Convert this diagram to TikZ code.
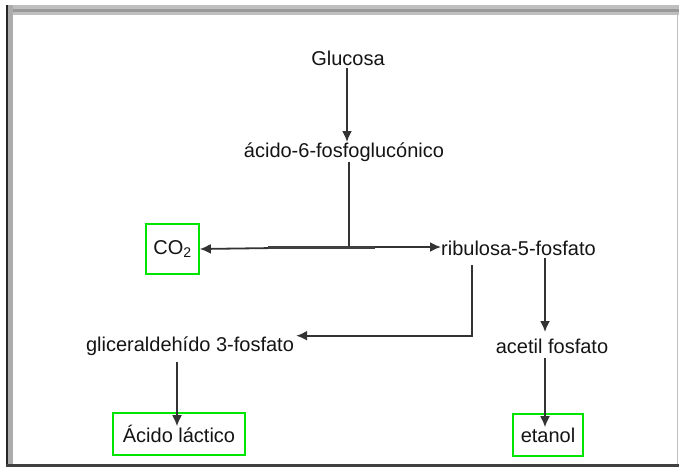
\documentclass[tikz,border=0pt]{standalone}
\usepackage{fontspec}
\setmainfont{Liberation Sans}
\usetikzlibrary{arrows.meta,calc}
\begin{document}
\begin{tikzpicture}[x=1pt,y=-1pt,
  lbl/.style={inner sep=0pt,font=\fontsize{20}{24}\selectfont,text=black!92},
  gbox/.style={lbl,draw=green!90!black,line width=1.6pt,align=center},
  conn/.style={draw=black!80,line width=1.8pt},
  arr/.style={conn,-{Latex[length=11pt,width=10pt]}}]
\useasboundingbox (0,0) rectangle (679,467);
% frame
\fill[gray!50] (6,5) rectangle (679,15);
\draw[gray!80,line width=2.5pt] (6,10.5) -- (679,10.5);
\fill[gray!65] (8,5) rectangle (13,467);
\draw[black!85,line width=1.8pt] (6.9,5) -- (6.9,467);
\fill[black!75] (6,463.5) rectangle (679,467);
\draw[gray!50,line width=1pt] (677.5,15) -- (677.5,463.5);
% nodes
\node[lbl,anchor=base] (glu) at (348,65) {Glucosa};
\node[lbl,anchor=base] (acido) at (344,157.5) {ácido-6-fosfoglucónico};
\node[gbox,minimum width=53pt,minimum height=50pt] (co2) at (172.5,249) {CO\textsubscript{2}};
\node[lbl,anchor=base west] (ribu) at (441,255) {ribulosa-5-fosfato};
\node[lbl,anchor=base] (gli) at (190,351) {gliceraldehído 3-fosfato};
\node[lbl,anchor=base] (acet) at (552,353) {acetil fosfato};
\node[gbox,minimum width=132pt,minimum height=42pt] (lac) at (179,434) {Ácido láctico};
\node[gbox,minimum width=70pt,minimum height=42pt] (eta) at (548,435) {etanol};
% connectors
\coordinate (j) at (349,247);
\coordinate (gtop) at (347,68);
\coordinate (atop) at (347,142);
\draw[arr] (gtop) -- (atop);
\draw[conn] (acido.south -| j) -- (j);
\draw[arr] (j) -- (co2.east);
\draw[arr] (j) -- (ribu.west |- j);
\draw[draw=black!75,line width=3pt] (268,247) -- (375,247);
\coordinate (r1) at (472,265);
\draw[arr] (r1) |- ($(gli.east)+(2,-10)$);
\coordinate (r2) at (545,258);
\draw[arr] (r2) -- (545,332);
\draw[arr] ($(acet.south)+(-7,5)$) -- ($(eta.north)+(-3,14)$);
\draw[arr] ($(gli.south)+(-13,7)$) -- ($(lac.north)+(-2,14)$);
\end{tikzpicture}
\end{document}
